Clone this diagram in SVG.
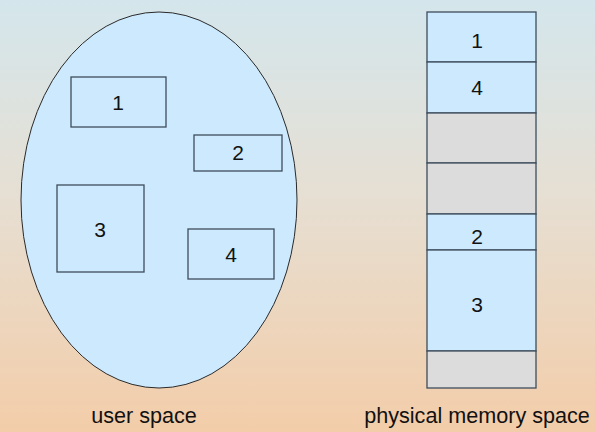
<svg xmlns="http://www.w3.org/2000/svg" width="595" height="432" viewBox="0 0 595 432">
<defs>
<linearGradient id="bg" x1="0" y1="0" x2="0" y2="1">
<stop offset="0" stop-color="#d4e6ec"/>
<stop offset="0.45" stop-color="#e6dfd3"/>
<stop offset="1" stop-color="#f3cda9"/>
</linearGradient>
</defs>
<style>
.blk{fill:#cde9fd;stroke:#3d4d5c;stroke-width:1.3}
.free{fill:#dcdcdc;stroke:#3d4d5c;stroke-width:1.3}
.num{font-family:"Liberation Sans",Arial,sans-serif;font-size:21px;fill:#111;text-anchor:middle}
.lbl{font-family:"Liberation Sans",Arial,sans-serif;font-size:21.6px;fill:#111;text-anchor:middle}
</style>
<rect x="0" y="0" width="595" height="432" fill="url(#bg)"/>
<g id="user-space">
<ellipse cx="159" cy="200" rx="138" ry="188" fill="#cde9fd" stroke="#2a2a2a" stroke-width="1"/>
</g>
<g id="u1"><rect class="blk" x="71" y="77" width="95" height="50"/><text class="num" x="118" y="110">1</text></g>
<g id="u2"><rect class="blk" x="194" y="135" width="88" height="36"/><text class="num" x="238" y="160">2</text></g>
<g id="u3"><rect class="blk" x="57" y="185" width="87" height="87"/><text class="num" x="100" y="237">3</text></g>
<g id="u4"><rect class="blk" x="188" y="229" width="86" height="50"/><text class="num" x="231" y="262">4</text></g>
<g id="physical-memory">
<rect class="blk" x="427" y="12" width="109" height="50"/>
<text class="num" x="477" y="48">1</text>
<rect class="blk" x="427" y="62" width="109" height="51"/>
<text class="num" x="477" y="95">4</text>
<rect class="free" x="427" y="113" width="109" height="50"/>
<rect class="free" x="427" y="163" width="109" height="51"/>
<rect class="blk" x="427" y="214" width="109" height="36"/>
<text class="num" x="477" y="244">2</text>
<rect class="blk" x="427" y="250" width="109" height="101"/>
<text class="num" x="477" y="312">3</text>
<rect class="free" x="427" y="351" width="109" height="37"/>
</g>
<g id="connectors"/>
<text class="lbl" x="144" y="423">user space</text>
<text class="lbl" x="477" y="423">physical memory space</text>
</svg>
